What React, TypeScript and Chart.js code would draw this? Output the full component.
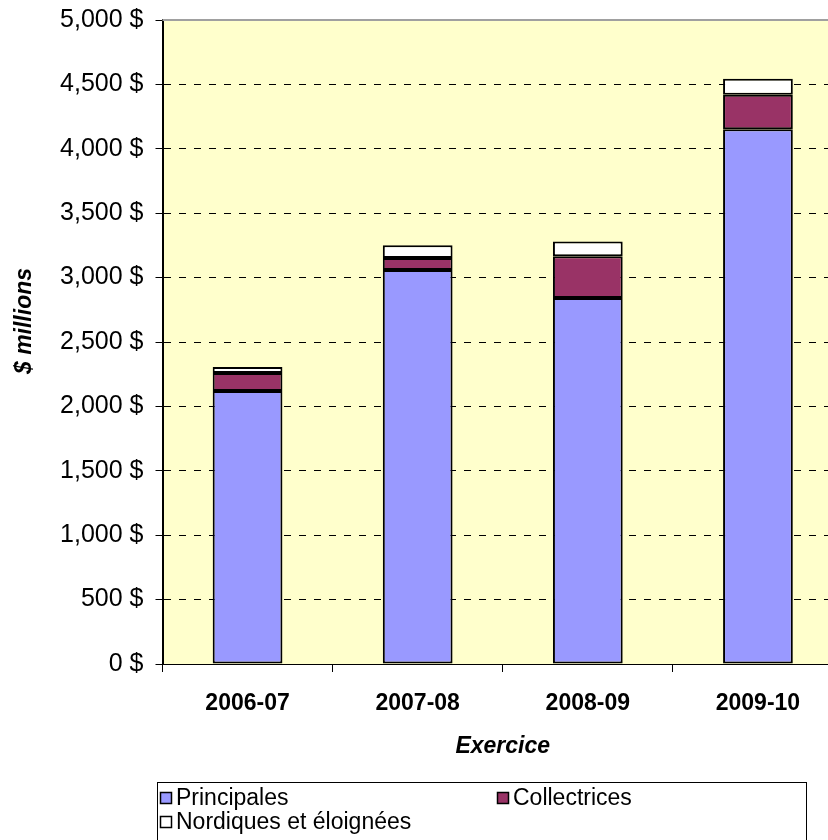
import React, { useEffect, useRef } from 'react';
import { Chart, registerables } from 'chart.js';

Chart.register(...registerables);

const categories = ['2006-07', '2007-08', '2008-09', '2009-10'];
const principales = [2120, 3059, 2841, 4152];
const collectrices = [140, 93, 325, 268];
const nordiques = [45, 99, 114, 124];
const seriesLabels = ['Principales', 'Collectrices', 'Nordiques et éloignées'];
const seriesColors = ['#9999FF', '#993366', '#FFFFFF'];
const yMin = 0;
const yMax = 5000;
const yStep = 500;
const xTitle = 'Exercice';
const yTitle = '$ millions';

const FONT = "'Liberation Sans', Arial, sans-serif";

const decorPlugin = {
  id: 'decor',
  beforeDraw(chart: any) {
    const { ctx, chartArea } = chart;
    ctx.save();
    ctx.fillStyle = '#FFFFCC';
    ctx.fillRect(chartArea.left, chartArea.top, chartArea.right - chartArea.left, chartArea.bottom - chartArea.top);
    ctx.restore();
  },
  afterDraw(chart: any) {
    const { ctx, chartArea } = chart;
    ctx.save();
    // top border of plot area
    ctx.strokeStyle = '#A0A0A0';
    ctx.lineWidth = 2;
    ctx.beginPath();
    ctx.moveTo(chartArea.left, chartArea.top);
    ctx.lineTo(chartArea.right, chartArea.top);
    ctx.stroke();

    // y axis title
    ctx.save();
    ctx.translate(25, 321);
    ctx.rotate(-Math.PI / 2);
    ctx.font = `italic bold 23px ${FONT}`;
    ctx.fillStyle = '#000';
    ctx.textAlign = 'center';
    ctx.textBaseline = 'middle';
    ctx.fillText(yTitle, 0, 0);
    ctx.restore();

    // legend box
    ctx.strokeStyle = '#000';
    ctx.lineWidth = 1;
    ctx.strokeRect(157.5, 782.5, 649, 80);
    const pos = [
      { x: 160, y: 792 },
      { x: 497, y: 792 },
      { x: 160, y: 816 },
    ];
    ctx.font = `23px ${FONT}`;
    ctx.textBaseline = 'middle';
    ctx.textAlign = 'left';
    chart.data.datasets.forEach((ds: any, i: number) => {
      const p = pos[i];
      ctx.fillStyle = ds.backgroundColor;
      ctx.fillRect(p.x, p.y, 12, 12);
      ctx.strokeStyle = '#000';
      ctx.lineWidth = 1.5;
      ctx.strokeRect(p.x + 0.5, p.y + 0.5, 11, 11);
      ctx.fillStyle = '#000';
      ctx.fillText(ds.label, p.x + 16, p.y + 7);
    });
    ctx.restore();
  },
};

export default function App() {
  const canvasRef = useRef<HTMLCanvasElement | null>(null);

  useEffect(() => {
    if (!canvasRef.current) return;
    const seriesData = [principales, collectrices, nordiques];
    const chart = new Chart(canvasRef.current, {
      type: 'bar',
      data: {
        labels: categories,
        datasets: seriesData.map((d, i) => ({
          label: seriesLabels[i],
          data: d,
          backgroundColor: seriesColors[i],
          borderColor: '#000000',
          borderWidth: 2,
          borderSkipped: false,
          barPercentage: 0.41,
          categoryPercentage: 1,
        })),
      },
      options: {
        responsive: false,
        animation: false,
        layout: { padding: { top: 20, left: 0, right: 0, bottom: 76 } },
        plugins: {
          legend: { display: false },
          tooltip: { enabled: false },
        },
        scales: {
          x: {
            stacked: true,
            afterFit: (scale: any) => {
              scale.height = 100;
              scale.paddingLeft = 0;
              scale.paddingRight = 0;
            },
            grid: {
              display: true,
              drawOnChartArea: false,
              drawTicks: true,
              tickLength: 8,
              color: '#000',
              offset: true,
            },
            border: { display: true, color: '#000', width: 1 },
            ticks: {
              color: '#000',
              font: { family: FONT, size: 23, weight: 'bold' },
              padding: 18,
            },
            title: {
              display: true,
              text: xTitle,
              color: '#000',
              font: { family: FONT, size: 23, weight: 'bold', style: 'italic' },
              padding: { top: 0, bottom: 4 },
            },
          },
          y: {
            stacked: true,
            min: yMin,
            max: yMax,
            afterFit: (scale: any) => {
              scale.width = 162.5;
              scale.paddingTop = 0;
              scale.paddingBottom = 0;
            },
            grid: {
              color: '#000',
              lineWidth: 1,
              tickLength: 7,
              tickBorderDash: [],
              drawTicks: true,
            },
            border: { display: true, color: '#000', width: 2, dash: [7, 8] },
            ticks: {
              stepSize: yStep,
              color: '#000',
              font: { family: FONT, size: 25 },
              padding: 12,
              callback: (v: any) => Number(v).toLocaleString('en-US') + ' $',
            },
            title: { display: false },
          },
        },
      },
      plugins: [decorPlugin],
    });
    return () => chart.destroy();
  }, []);

  return (
    <div style={{ position: 'fixed', left: 0, top: 0, width: 828, height: 840, overflow: 'hidden', background: '#fff' }}>
      <canvas ref={canvasRef} width={843} height={840} style={{ display: 'block' }} />
    </div>
  );
}
